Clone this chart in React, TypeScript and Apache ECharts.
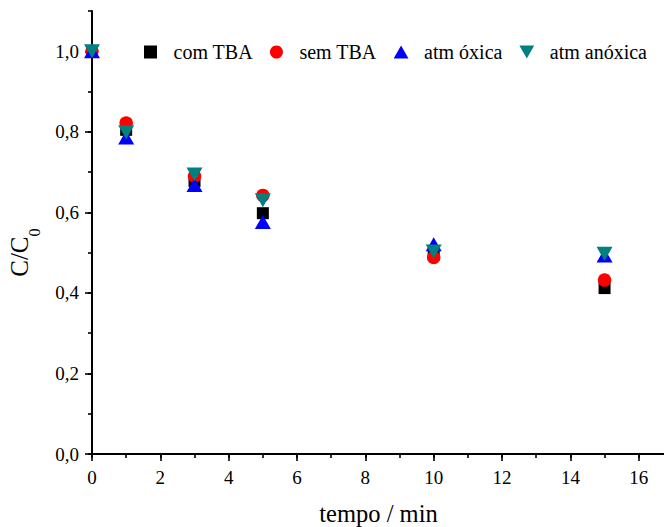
import React, { useEffect, useRef } from "react";
import * as echarts from "echarts";

const tempo = [0, 1, 3, 5, 10, 15];
const comTBA = [1.0, 0.805, 0.678, 0.598, 0.495, 0.412];
const semTBA = [1.0, 0.822, 0.69, 0.642, 0.488, 0.432];
const atmOxica = [1.0, 0.786, 0.668, 0.576, 0.521, 0.493];
const atmAnoxica = [1.0, 0.799, 0.694, 0.63, 0.503, 0.497];
const seriesNames = ["com TBA", "sem TBA", "atm óxica", "atm anóxica"];
const seriesColors = ["#000000", "#ff0000", "#0000ff", "#008080"];

const sq = "path://M0,0 L10,0 L10,10 L0,10 Z";
const tri = "path://M0,14 L8,0 L16,14 Z";
const invTri = "path://M0,0 L16,0 L8,14 Z";
const symbols = [sq, "circle", tri, invTri];
const sizes: any[] = [[12, 12], 13.5, [16, 14], [16, 14]];

const font = "Liberation Serif";

// axis geometry (pixels)
const LEFT = 92;
const BOTTOM_Y = 454;
const PX_PER_MIN = 34.17;
const PX_PER_UNIT = 402.7;

export default function App() {
  const ref = useRef<HTMLDivElement>(null);
  useEffect(() => {
    if (!ref.current) return;
    const chart = echarts.init(ref.current, undefined, { renderer: "svg" });
    const all = [comTBA, semTBA, atmOxica, atmAnoxica];
    const xMaxFull = 16.77;
    const yMaxFull = 1.1;
    const lineStyle = { color: "#000", width: 2 };
    const tickStyle = { color: "#000", width: 1.6 };
    chart.setOption({
      animation: false,
      textStyle: { fontFamily: font },
      grid: [
        {
          left: LEFT,
          top: BOTTOM_Y - PX_PER_UNIT * yMaxFull,
          width: PX_PER_MIN * xMaxFull,
          height: PX_PER_UNIT * yMaxFull,
          containLabel: false,
          outerBoundsMode: "none",
        },
        {
          left: LEFT,
          top: BOTTOM_Y - PX_PER_UNIT,
          width: PX_PER_MIN * 16,
          height: PX_PER_UNIT,
          containLabel: false,
          outerBoundsMode: "none",
        },
      ],
      legend: {
        left: 139,
        top: 37,
        itemGap: 17,
        itemWidth: 16,
        itemHeight: 13,
        symbolKeepAspect: true,
        textStyle: { fontFamily: font, fontSize: 20, color: "#000", padding: [0, 0, 0, 10] },
        data: seriesNames.map((n, i) => ({ name: n, icon: symbols[i] })),
      },
      xAxis: [
        {
          gridIndex: 0,
          type: "value",
          min: 0,
          max: xMaxFull,
          interval: 1,
          name: "tempo / min",
          nameLocation: "middle",
          nameGap: 47,
          nameTextStyle: { fontFamily: font, fontSize: 24.5, color: "#000" },
          axisLine: { show: true, onZero: false, lineStyle },
          axisTick: { show: true, inside: false, length: 4, lineStyle: tickStyle },
          splitLine: { show: false },
          axisLabel: { show: false },
        },
        {
          gridIndex: 1,
          type: "value",
          min: 0,
          max: 16,
          interval: 2,
          axisLine: { show: false, onZero: false },
          axisTick: { show: true, inside: false, length: 7, lineStyle: tickStyle },
          splitLine: { show: false },
          axisLabel: { color: "#000", fontSize: 19, fontFamily: font, margin: 14 },
        },
      ],
      yAxis: [
        {
          gridIndex: 0,
          type: "value",
          min: 0,
          max: yMaxFull,
          interval: 0.1,
          axisLine: { show: true, onZero: false, lineStyle },
          axisTick: { show: true, inside: false, length: 4, lineStyle: tickStyle },
          splitLine: { show: false },
          axisLabel: { show: false },
        },
        {
          gridIndex: 1,
          type: "value",
          min: 0,
          max: 1,
          interval: 0.2,
          name: "{a|C/C}{b|0}",
          nameLocation: "middle",
          nameGap: 50,
          nameRotate: 90,
          nameTextStyle: {
            color: "#000",
            fontFamily: font,
            rich: {
              a: { fontFamily: font, fontSize: 25, color: "#000" },
              b: { fontFamily: font, fontSize: 16, color: "#000", verticalAlign: "bottom", padding: [30, 0, 0, 0] },
            },
          },
          axisLine: { show: false, onZero: false },
          axisTick: { show: true, inside: false, length: 7, lineStyle: tickStyle },
          splitLine: { show: false },
          axisLabel: {
            color: "#000",
            fontSize: 19,
            fontFamily: font,
            margin: 13,
            formatter: (v: number) => v.toFixed(1).replace(".", ","),
          },
        },
      ],
      series: seriesNames.map((n, i) => ({
        name: n,
        type: "scatter",
        xAxisIndex: 0,
        yAxisIndex: 0,
        symbol: symbols[i],
        symbolSize: sizes[i],
        itemStyle: { color: seriesColors[i], opacity: 1 },
        data: tempo.map((t, j) => [t, all[i][j]]),
        z: 2 + i,
      })),
    });
    return () => chart.dispose();
  }, []);
  return <div ref={ref} style={{ width: 664, height: 527, position: "absolute", left: 0, top: 0 }} />;
}
